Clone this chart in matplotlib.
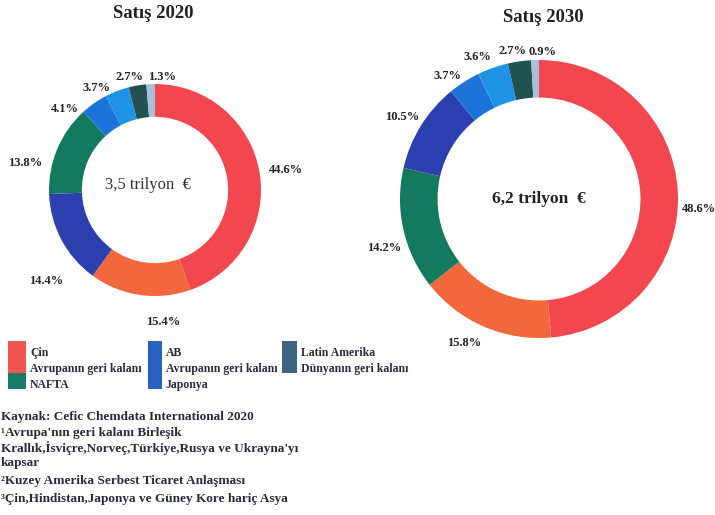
import numpy as np
import matplotlib
matplotlib.use("Agg")
import matplotlib.pyplot as plt
from matplotlib.patches import Rectangle

# ---- data ----
regions = ["Çin", "Avrupanın geri kalanı", "AB", "NAFTA",
           "Asya'nın geri kalanı", "Japonya", "Latin Amerika", "Dünyanın geri kalanı"]
colors = {"Çin": "#F2474F", "Avrupanın geri kalanı": "#F2683C", "AB": "#2B3FAE",
          "NAFTA": "#137A5E", "Asya'nın geri kalanı": "#1D73D8", "Japonya": "#1E93E6",
          "Latin Amerika": "#22524F", "Dünyanın geri kalanı": "#A7BFDD"}

order_2020 = ["Çin", "Avrupanın geri kalanı", "AB", "NAFTA",
              "Asya'nın geri kalanı", "Japonya", "Latin Amerika", "Dünyanın geri kalanı"]
share_2020 = [44.6, 15.4, 14.4, 13.8, 4.1, 3.7, 2.7, 1.3]

order_2030 = ["Çin", "Avrupanın geri kalanı", "NAFTA", "AB",
              "Asya'nın geri kalanı", "Japonya", "Latin Amerika", "Dünyanın geri kalanı"]
share_2030 = [48.6, 15.8, 14.2, 10.5, 3.7, 3.6, 2.7, 0.9]

title_2020, total_2020 = "Satış 2020", "3,5 trilyon  €"
title_2030, total_2030 = "Satış 2030", "6,2 trilyon  €"

legend_cols = [["Çin", "Avrupanın geri kalanı", "NAFTA"],
               ["AB", "Avrupanın geri kalanı", "Japonya"],
               ["Latin Amerika", "Dünyanın geri kalanı"]]
legend_col_colors = [["#F2574F", "#F2574F", "#1A7A68"],
                     ["#2A62C4", "#2A62C4", "#2A62C4"],
                     ["#3D6482", "#3D6482"]]

notes = ["Kaynak: Cefic Chemdata International 2020",
         "¹Avrupa'nın geri kalanı Birleşik",
         "Krallık,İsviçre,Norveç,Türkiye,Rusya ve Ukrayna'yı",
         "kapsar",
         "²Kuzey Amerika Serbest Ticaret Anlaşması",
         "³Çin,Hindistan,Japonya ve Güney Kore hariç Asya"]

SERIF = ["Liberation Serif", "DejaVu Serif"]
W, H = 715, 515
fig = plt.figure(figsize=(W / 100, H / 100), dpi=100)
fig.patch.set_facecolor("white")


def px_axes(cx, cy, half):
    """Square axes centred on pixel (cx, cy) measured from the top-left."""
    return fig.add_axes([(cx - half) / W, (H - cy - half) / H, 2 * half / W, 2 * half / H])


def donut(ax, shares, order, ring, lab_r, nudges, lim, fs):
    wedges, _ = ax.pie(shares, colors=[colors[k] for k in order], startangle=90,
                       counterclock=False, radius=1.0,
                       wedgeprops=dict(width=ring, edgecolor="none"))
    ax.set_xlim(-lim, lim)
    ax.set_ylim(-lim, lim)
    ax.set_aspect("equal")
    ax.axis("off")
    for w, v, r, d in zip(wedges, shares, lab_r, nudges):
        ang = np.deg2rad((w.theta1 + w.theta2) / 2 + d)
        ax.text(r * np.cos(ang), r * np.sin(ang), f"{v:.1f}%", ha="center", va="center",
                fontsize=fs, fontweight="bold", family=SERIF, color="#222222")


# Satış 2020
R1 = 106
ax1 = px_axes(155, 190, 1.45 * R1)
donut(ax1, share_2020, order_2020, 0.31,
      [1.25, 1.25, 1.34, 1.25, 1.14, 1.11, 1.09, 1.07],
      [-1, 12, 12, 11, 13, 9, 3, -6], 1.45, 9)
ax1.text(-0.07, 0.05, total_2020, ha="center", va="center", fontsize=12,
         family=SERIF, color="#333333")
fig.text(153 / W, 1 - 13 / H, title_2020, ha="center", va="center",
         fontsize=13.5, fontweight="bold", family=SERIF, color="#222222")

# Satış 2030
R2 = 139
ax2 = px_axes(539, 199, 1.3 * R2)
donut(ax2, share_2030, order_2030, 0.27,
      [1.15, 1.17, 1.17, 1.15, 1.10, 1.11, 1.08, 1.06],
      [-6, -4, 5, 1, 4, 4, 2, -3], 1.3, 9)
ax2.text(0, 0.0, total_2030, ha="center", va="center", fontsize=12.5,
         fontweight="bold", family=SERIF, color="#222222")
fig.text(543 / W, 1 - 17 / H, title_2030, ha="center", va="center",
         fontsize=13.5, fontweight="bold", family=SERIF, color="#222222")

# Legend block
col_x = [8, 148, 282]
sw_w = [18, 14, 15]
line_h = 16
top = 341
for cx, w, labels, cols in zip(col_x, sw_w, legend_cols, legend_col_colors):
    for i, (lab, c) in enumerate(zip(labels, cols)):
        y0 = top + i * line_h
        fig.patches.append(Rectangle((cx / W, 1 - (y0 + line_h) / H), w / W, line_h / H,
                                     transform=fig.transFigure, facecolor=c,
                                     edgecolor="none"))
        fig.text((cx + w + 4) / W, 1 - (y0 + line_h * 0.72) / H, lab, ha="left",
                 va="center", fontsize=8.5, fontweight="bold", family=SERIF,
                 color="#2a2a3a")

# Footnotes
note_y = [417, 433, 448, 463, 481, 499]
for t, y in zip(notes, note_y):
    fig.text(1 / W, 1 - y / H, t, ha="left", va="center", fontsize=9.5,
             fontweight="bold", family=SERIF, color="#2a2a3a")

fig.savefig("out.png", dpi=100, facecolor="white")
